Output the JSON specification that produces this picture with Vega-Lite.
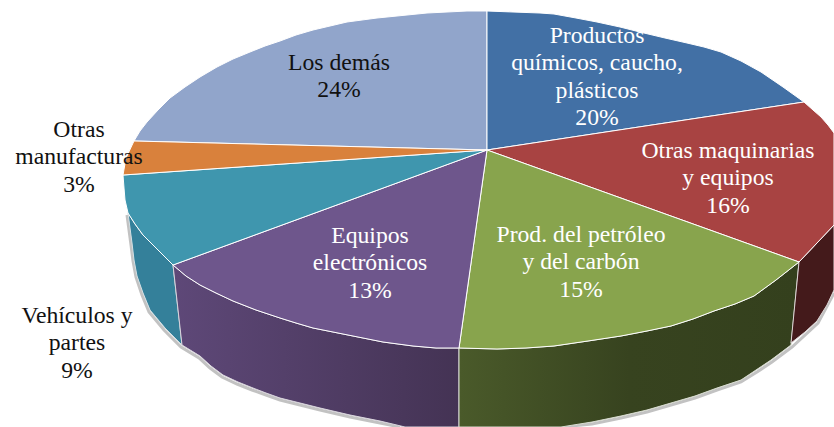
{
"$schema":"https://vega.github.io/schema/vega-lite/v6.json",
"width":834,"height":427,
"autosize":{"type":"none"},
"padding":0,
"background":"white",
"config":{"view":{"stroke":null}},
"datasets":{
"shape":[
{"s":"shadow","i":0,"x":127,"y":215},{"s":"shadow","i":1,"x":129,"y":230},{"s":"shadow","i":2,"x":131,"y":245},{"s":"shadow","i":3,"x":133,"y":261},{"s":"shadow","i":4,"x":136,"y":277},{"s":"shadow","i":5,"x":142,"y":295},{"s":"shadow","i":6,"x":149,"y":312},{"s":"shadow","i":7,"x":164,"y":330},{"s":"shadow","i":8,"x":181,"y":347},{"s":"shadow","i":9,"x":199,"y":358},{"s":"shadow","i":10,"x":210,"y":368},{"s":"shadow","i":11,"x":222,"y":377},{"s":"shadow","i":12,"x":237,"y":384},{"s":"shadow","i":13,"x":252,"y":390},{"s":"shadow","i":14,"x":266,"y":395},{"s":"shadow","i":15,"x":280,"y":400},{"s":"shadow","i":16,"x":300,"y":405},{"s":"shadow","i":17,"x":320,"y":410},{"s":"shadow","i":18,"x":350,"y":417},{"s":"shadow","i":19,"x":380,"y":423},{"s":"shadow","i":20,"x":400,"y":427},
{"s":"shadow2","i":0,"x":561,"y":427},{"s":"shadow2","i":1,"x":592,"y":424},{"s":"shadow2","i":2,"x":621,"y":418},{"s":"shadow2","i":3,"x":647,"y":412},{"s":"shadow2","i":4,"x":671,"y":405},{"s":"shadow2","i":5,"x":695,"y":398},{"s":"shadow2","i":6,"x":717,"y":390},{"s":"shadow2","i":7,"x":741,"y":382},{"s":"shadow2","i":8,"x":757,"y":372},{"s":"shadow2","i":9,"x":772,"y":362},{"s":"shadow2","i":10,"x":792,"y":347},{"s":"shadow2","i":11,"x":818,"y":323},{"s":"shadow2","i":12,"x":834,"y":293},

{"s":"Vehiculos lado","i":0,"x":173,"y":265},{"s":"Vehiculos lado","i":1,"x":158,"y":250},{"s":"Vehiculos lado","i":2,"x":143,"y":235},{"s":"Vehiculos lado","i":3,"x":135,"y":224},{"s":"Vehiculos lado","i":4,"x":128,"y":213},{"s":"Vehiculos lado","i":5,"x":130,"y":228},{"s":"Vehiculos lado","i":6,"x":132,"y":243},{"s":"Vehiculos lado","i":7,"x":134,"y":260},{"s":"Vehiculos lado","i":8,"x":137,"y":276},{"s":"Vehiculos lado","i":9,"x":143,"y":293},{"s":"Vehiculos lado","i":10,"x":150,"y":310},{"s":"Vehiculos lado","i":11,"x":165,"y":328},{"s":"Vehiculos lado","i":12,"x":182,"y":345},{"s":"Vehiculos lado","i":13,"x":173,"y":265},

{"s":"Equipos lado","i":0,"x":173,"y":265},{"s":"Equipos lado","i":1,"x":182,"y":345},{"s":"Equipos lado","i":2,"x":200,"y":356},{"s":"Equipos lado","i":3,"x":211,"y":366},{"s":"Equipos lado","i":4,"x":223,"y":375},{"s":"Equipos lado","i":5,"x":238,"y":382},{"s":"Equipos lado","i":6,"x":253,"y":388},{"s":"Equipos lado","i":7,"x":266,"y":393},{"s":"Equipos lado","i":8,"x":280,"y":398},{"s":"Equipos lado","i":9,"x":300,"y":403},{"s":"Equipos lado","i":10,"x":320,"y":408},{"s":"Equipos lado","i":11,"x":350,"y":415},{"s":"Equipos lado","i":12,"x":380,"y":421},{"s":"Equipos lado","i":13,"x":405,"y":427},{"s":"Equipos lado","i":14,"x":459,"y":427},{"s":"Equipos lado","i":15,"x":459,"y":348},{"s":"Equipos lado","i":16,"x":436,"y":348},{"s":"Equipos lado","i":17,"x":413,"y":346},{"s":"Equipos lado","i":18,"x":383,"y":342},{"s":"Equipos lado","i":19,"x":353,"y":336},{"s":"Equipos lado","i":20,"x":333,"y":332},{"s":"Equipos lado","i":21,"x":313,"y":328},{"s":"Equipos lado","i":22,"x":296,"y":323},{"s":"Equipos lado","i":23,"x":280,"y":318},{"s":"Equipos lado","i":24,"x":256,"y":310},{"s":"Equipos lado","i":25,"x":233,"y":301},{"s":"Equipos lado","i":26,"x":216,"y":293},{"s":"Equipos lado","i":27,"x":200,"y":285},{"s":"Equipos lado","i":28,"x":186,"y":276},{"s":"Equipos lado","i":29,"x":173,"y":265},

{"s":"Prod lado","i":0,"x":459,"y":348},{"s":"Prod lado","i":1,"x":459,"y":427},{"s":"Prod lado","i":2,"x":561,"y":427},{"s":"Prod lado","i":3,"x":592,"y":422},{"s":"Prod lado","i":4,"x":621,"y":416},{"s":"Prod lado","i":5,"x":647,"y":410},{"s":"Prod lado","i":6,"x":671,"y":403},{"s":"Prod lado","i":7,"x":695,"y":396},{"s":"Prod lado","i":8,"x":717,"y":388},{"s":"Prod lado","i":9,"x":741,"y":380},{"s":"Prod lado","i":10,"x":756,"y":370},{"s":"Prod lado","i":11,"x":771,"y":360},{"s":"Prod lado","i":12,"x":791,"y":345},{"s":"Prod lado","i":13,"x":799,"y":262},{"s":"Prod lado","i":14,"x":776,"y":280},{"s":"Prod lado","i":15,"x":754,"y":296},{"s":"Prod lado","i":16,"x":735,"y":304},{"s":"Prod lado","i":17,"x":714,"y":311},{"s":"Prod lado","i":18,"x":693,"y":319},{"s":"Prod lado","i":19,"x":671,"y":326},{"s":"Prod lado","i":20,"x":647,"y":331},{"s":"Prod lado","i":21,"x":621,"y":336},{"s":"Prod lado","i":22,"x":588,"y":341},{"s":"Prod lado","i":23,"x":554,"y":346},{"s":"Prod lado","i":24,"x":526,"y":348},{"s":"Prod lado","i":25,"x":497,"y":349},{"s":"Prod lado","i":26,"x":459,"y":348},

{"s":"Otras lado","i":0,"x":799,"y":262},{"s":"Otras lado","i":1,"x":791,"y":343},{"s":"Otras lado","i":2,"x":805,"y":332},{"s":"Otras lado","i":3,"x":817,"y":321},{"s":"Otras lado","i":4,"x":827,"y":305},{"s":"Otras lado","i":5,"x":834,"y":290},{"s":"Otras lado","i":6,"x":834,"y":225},{"s":"Otras lado","i":7,"x":817,"y":243},{"s":"Otras lado","i":8,"x":799,"y":262},

{"s":"Los demás","i":0,"x":487,"y":150},{"s":"Los demás","i":1,"x":134,"y":141},{"s":"Los demás","i":2,"x":140,"y":131},{"s":"Los demás","i":3,"x":147,"y":122},{"s":"Los demás","i":4,"x":158,"y":110},{"s":"Los demás","i":5,"x":170,"y":98},{"s":"Los demás","i":6,"x":185,"y":87},{"s":"Los demás","i":7,"x":200,"y":77},{"s":"Los demás","i":8,"x":217,"y":67},{"s":"Los demás","i":9,"x":233,"y":59},{"s":"Los demás","i":10,"x":250,"y":52},{"s":"Los demás","i":11,"x":265,"y":46},{"s":"Los demás","i":12,"x":280,"y":41},{"s":"Los demás","i":13,"x":296,"y":35},{"s":"Los demás","i":14,"x":313,"y":30},{"s":"Los demás","i":15,"x":330,"y":26},{"s":"Los demás","i":16,"x":347,"y":22},{"s":"Los demás","i":17,"x":377,"y":18},{"s":"Los demás","i":18,"x":407,"y":15},{"s":"Los demás","i":19,"x":427,"y":13},{"s":"Los demás","i":20,"x":447,"y":12},{"s":"Los demás","i":21,"x":467,"y":11},{"s":"Los demás","i":22,"x":487,"y":11},{"s":"Los demás","i":23,"x":487,"y":150},

{"s":"Productos","i":0,"x":487,"y":150},{"s":"Productos","i":1,"x":487,"y":11},{"s":"Productos","i":2,"x":513,"y":12},{"s":"Productos","i":3,"x":540,"y":13},{"s":"Productos","i":4,"x":554,"y":14},{"s":"Productos","i":5,"x":576,"y":18},{"s":"Productos","i":6,"x":597,"y":22},{"s":"Productos","i":7,"x":620,"y":27},{"s":"Productos","i":8,"x":644,"y":33},{"s":"Productos","i":9,"x":665,"y":38},{"s":"Productos","i":10,"x":687,"y":43},{"s":"Productos","i":11,"x":704,"y":47},{"s":"Productos","i":12,"x":721,"y":52},{"s":"Productos","i":13,"x":741,"y":61},{"s":"Productos","i":14,"x":761,"y":72},{"s":"Productos","i":15,"x":783,"y":87},{"s":"Productos","i":16,"x":804,"y":102},{"s":"Productos","i":17,"x":487,"y":150},

{"s":"Otras maquinarias","i":0,"x":487,"y":150},{"s":"Otras maquinarias","i":1,"x":804,"y":102},{"s":"Otras maquinarias","i":2,"x":813,"y":110},{"s":"Otras maquinarias","i":3,"x":821,"y":117},{"s":"Otras maquinarias","i":4,"x":828,"y":125},{"s":"Otras maquinarias","i":5,"x":834,"y":133},{"s":"Otras maquinarias","i":6,"x":834,"y":225},{"s":"Otras maquinarias","i":7,"x":817,"y":243},{"s":"Otras maquinarias","i":8,"x":799,"y":262},{"s":"Otras maquinarias","i":9,"x":487,"y":150},

{"s":"Prod. del petróleo","i":0,"x":487,"y":150},{"s":"Prod. del petróleo","i":1,"x":799,"y":262},{"s":"Prod. del petróleo","i":2,"x":776,"y":280},{"s":"Prod. del petróleo","i":3,"x":754,"y":296},{"s":"Prod. del petróleo","i":4,"x":735,"y":304},{"s":"Prod. del petróleo","i":5,"x":714,"y":311},{"s":"Prod. del petróleo","i":6,"x":693,"y":319},{"s":"Prod. del petróleo","i":7,"x":671,"y":326},{"s":"Prod. del petróleo","i":8,"x":647,"y":331},{"s":"Prod. del petróleo","i":9,"x":621,"y":336},{"s":"Prod. del petróleo","i":10,"x":588,"y":341},{"s":"Prod. del petróleo","i":11,"x":554,"y":346},{"s":"Prod. del petróleo","i":12,"x":526,"y":348},{"s":"Prod. del petróleo","i":13,"x":497,"y":349},{"s":"Prod. del petróleo","i":14,"x":459,"y":348},{"s":"Prod. del petróleo","i":15,"x":487,"y":150},

{"s":"Equipos","i":0,"x":487,"y":150},{"s":"Equipos","i":1,"x":459,"y":348},{"s":"Equipos","i":2,"x":436,"y":348},{"s":"Equipos","i":3,"x":413,"y":346},{"s":"Equipos","i":4,"x":383,"y":342},{"s":"Equipos","i":5,"x":353,"y":336},{"s":"Equipos","i":6,"x":333,"y":332},{"s":"Equipos","i":7,"x":313,"y":328},{"s":"Equipos","i":8,"x":296,"y":323},{"s":"Equipos","i":9,"x":280,"y":318},{"s":"Equipos","i":10,"x":256,"y":310},{"s":"Equipos","i":11,"x":233,"y":301},{"s":"Equipos","i":12,"x":216,"y":293},{"s":"Equipos","i":13,"x":200,"y":285},{"s":"Equipos","i":14,"x":186,"y":276},{"s":"Equipos","i":15,"x":173,"y":265},{"s":"Equipos","i":16,"x":487,"y":150},

{"s":"Vehículos","i":0,"x":487,"y":150},{"s":"Vehículos","i":1,"x":173,"y":265},{"s":"Vehículos","i":2,"x":158,"y":250},{"s":"Vehículos","i":3,"x":143,"y":235},{"s":"Vehículos","i":4,"x":135,"y":224},{"s":"Vehículos","i":5,"x":128,"y":213},{"s":"Vehículos","i":6,"x":125,"y":200},{"s":"Vehículos","i":7,"x":124,"y":188},{"s":"Vehículos","i":8,"x":123,"y":175},{"s":"Vehículos","i":9,"x":487,"y":150},

{"s":"Otras manufacturas","i":0,"x":487,"y":150},{"s":"Otras manufacturas","i":1,"x":123,"y":175},{"s":"Otras manufacturas","i":2,"x":126,"y":158},{"s":"Otras manufacturas","i":3,"x":134,"y":141},{"s":"Otras manufacturas","i":4,"x":487,"y":150}
],
"labels":[
{"label":"Los demás\n24%","x":339,"y":63,"tone":"dark"},
{"label":"Productos\nquímicos, caucho,\nplásticos\n20%","x":597,"y":36,"tone":"light"},
{"label":"Otras maquinarias\ny equipos\n16%","x":728,"y":151,"tone":"light"},
{"label":"Prod. del petróleo\ny del carbón\n15%","x":581,"y":235,"tone":"light"},
{"label":"Equipos\nelectrónicos\n13%","x":370,"y":236,"tone":"light"},
{"label":"Vehículos y\npartes\n9%","x":77,"y":316,"tone":"dark"},
{"label":"Otras\nmanufacturas\n3%","x":79,"y":130,"tone":"dark"}
]
},
"encoding":{
"x":{"field":"x","type":"quantitative","scale":{"domain":[0,834],"nice":false,"zero":false},"axis":null},
"y":{"field":"y","type":"quantitative","scale":{"domain":[427,0],"nice":false,"zero":false},"axis":null}
},
"layer":[
{"data":{"name":"shape"},"transform":[{"filter":"indexof(['shadow','shadow2'],datum.s)>=0"}],
"mark":{"type":"line","stroke":"#777777","strokeWidth":3,"opacity":0.45,"clip":true},
"encoding":{"detail":{"field":"s"},"order":{"field":"i","type":"quantitative"}}},
{"data":{"name":"shape"},"transform":[{"filter":"datum.s==='Vehiculos lado'"}],
"mark":{"type":"line","filled":true,"fill":"#34809a","stroke":"#d5e0e4","strokeWidth":1},
"encoding":{"order":{"field":"i","type":"quantitative"}}},
{"data":{"name":"shape"},"transform":[{"filter":"datum.s==='Equipos lado'"}],
"mark":{"type":"line","filled":true,"stroke":"#d8d4dc","strokeWidth":1,
"fill":{"gradient":"linear","x1":0,"y1":0,"x2":1,"y2":0,"stops":[{"offset":0,"color":"#5e4878"},{"offset":1,"color":"#443354"}]}},
"encoding":{"order":{"field":"i","type":"quantitative"}}},
{"data":{"name":"shape"},"transform":[{"filter":"datum.s==='Prod lado'"}],
"mark":{"type":"line","filled":true,"stroke":"#d8dcd0","strokeWidth":1,
"fill":{"gradient":"linear","x1":0,"y1":0,"x2":1,"y2":0,"stops":[{"offset":0,"color":"#4a5a2a"},{"offset":0.5,"color":"#37431f"},{"offset":1,"color":"#34401d"}]}},
"encoding":{"order":{"field":"i","type":"quantitative"}}},
{"data":{"name":"shape"},"transform":[{"filter":"datum.s==='Otras lado'"}],
"mark":{"type":"line","filled":true,"fill":"#441a1b","stroke":"#dcd5d5","strokeWidth":1},
"encoding":{"order":{"field":"i","type":"quantitative"}}},
{"data":{"name":"shape"},"transform":[{"filter":"indexof(['Los demás','Productos','Otras maquinarias','Prod. del petróleo','Equipos','Vehículos','Otras manufacturas'],datum.s)>=0"}],
"mark":{"type":"line","filled":true,"stroke":"white","strokeWidth":1},
"encoding":{"order":{"field":"i","type":"quantitative"},
"color":{"field":"s","type":"nominal","legend":null,"scale":{"domain":["Los demás","Productos","Otras maquinarias","Prod. del petróleo","Equipos","Vehículos","Otras manufacturas"],"range":["#91a5cb","#4270a5","#a84342","#88a44d","#6e568c","#3f96ae","#d9813c"]}}}},
{"data":{"name":"labels"},
"mark":{"type":"text","font":"Liberation Serif","fontSize":23.7,"lineHeight":27.3,"lineBreak":"\n","align":"center","baseline":"middle"},
"encoding":{"text":{"field":"label"},
"color":{"field":"tone","type":"nominal","legend":null,"scale":{"domain":["dark","light"],"range":["#111111","#ffffff"]}}}}
],
"resolve":{"scale":{"color":"independent"}}
}
